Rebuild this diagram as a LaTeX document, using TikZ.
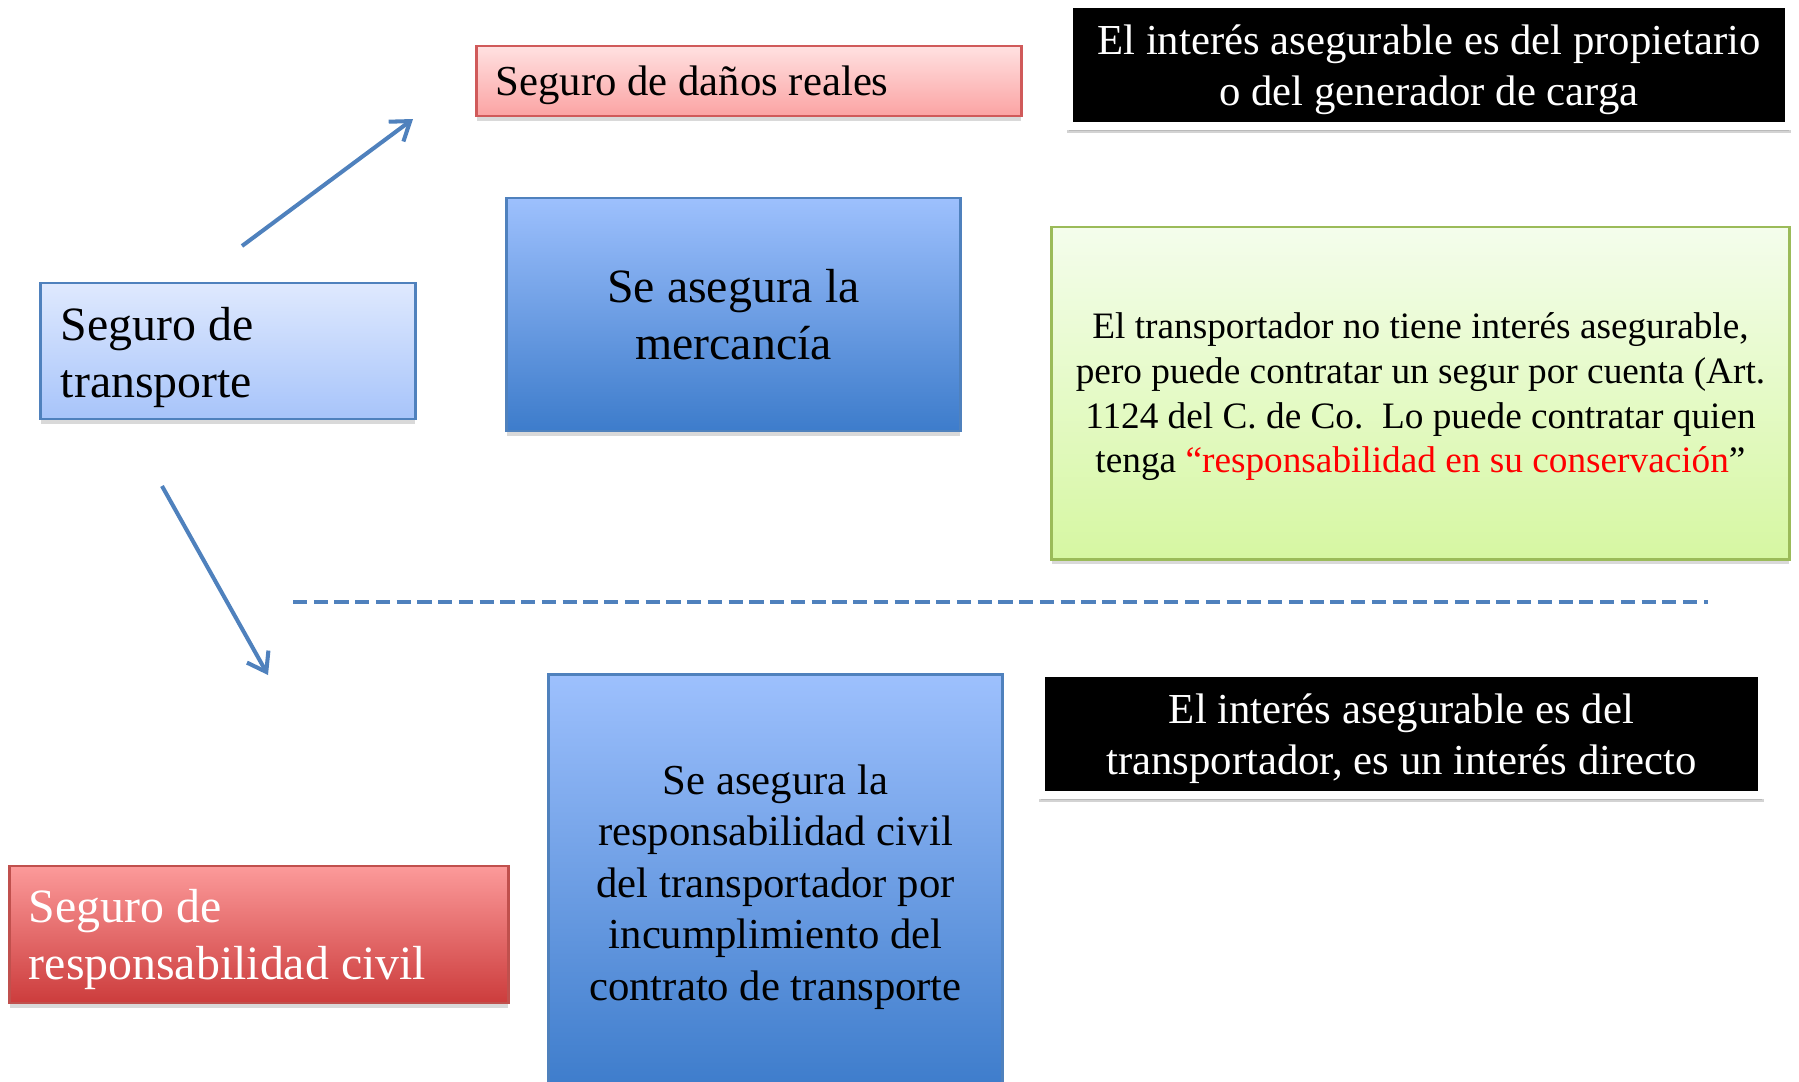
\documentclass[tikz,border=0pt]{standalone}
\usepackage{fontspec}
\setmainfont{Liberation Serif}
\usepackage{tikz}
\usetikzlibrary{arrows.meta, shadows}
\usepackage{xcolor}
\definecolor{danos_top}{HTML}{FFE1E1}
\definecolor{danos_bot}{HTML}{FBA3A3}
\definecolor{danos_line}{HTML}{D05A5A}
\definecolor{transp_top}{HTML}{DFE9FE}
\definecolor{transp_bot}{HTML}{A7C4FA}
\definecolor{merc_top}{HTML}{9DC0FD}
\definecolor{merc_bot}{HTML}{3D7CCB}
\definecolor{green_top}{HTML}{F4FDEC}
\definecolor{green_bot}{HTML}{D6F7A2}
\definecolor{green_line}{HTML}{9BBB59}
\definecolor{rc_top}{HTML}{FC9A9A}
\definecolor{rc_bot}{HTML}{CC3C3C}
\definecolor{rc_line}{HTML}{C0504D}
\definecolor{my_blue}{HTML}{4F81BD}
\definecolor{my_red}{HTML}{FF0000}

\begin{document}
\begin{tikzpicture}[
    x=0.01cm, y=-0.01cm,
    box/.style={rectangle, inner sep=0pt, line width=0.8pt, text depth=0pt,
      execute at begin node={\spaceskip=0pt\xspaceskip=0pt},
      drop shadow={opacity=0.3, shadow xshift=0pt, shadow yshift=-0.05cm}},
    left-box/.style={box, inner xsep=0.19cm, align=left},
    dark-box/.style={box, fill=black, draw=white, line width=0.08cm, text=white, align=center,
      drop shadow={opacity=0.35, shadow xshift=0pt, shadow yshift=-0.07cm, shadow scale=1.005}},
    font-small/.style={font=\fontsize{10.6pt}{12.7pt}\selectfont},
    font-mid/.style={font=\fontsize{12.15pt}{14.6pt}\selectfont},
    font-big/.style={font=\fontsize{13.6pt}{16.3pt}\selectfont},
    link/.style={color=my_blue, line width=1.15pt, -{Straight Barb[length=5pt, width=7pt]}},
    divider/.style={color=my_blue, line width=1.4pt, dash pattern=on 4pt off 1.9pt},
  ]
  \useasboundingbox (0,0) rectangle (1799,1081);

  %%%%%%%%%% Upper branch %%%%%%%%%%
  \node[left-box, font-mid, top color=danos_top, bottom color=danos_bot, draw=danos_line,
    minimum width=5.44cm, minimum height=0.70cm, text width=5.06cm]
    (danos) at (749,81) {Seguro de daños reales};
  \node[dark-box, font-mid, minimum width=7.20cm, minimum height=1.22cm]
    (propietario) at (1429,65) {El interés asegurable es del propietario\\o del generador de carga};
  \node[left-box, font-big, top color=transp_top, bottom color=transp_bot, draw=my_blue,
    minimum width=3.74cm, minimum height=1.36cm, text width=3.34cm, text depth=15.5pt]
    (transporte) at (228,351) {Seguro de\\transporte};
  \node[box, font-big, top color=merc_top, bottom color=merc_bot, draw=my_blue, align=center,
    minimum width=4.53cm, minimum height=2.33cm]
    (mercancia) at (733.5,314.5) {Se asegura la\\mercancía};
  \node[box, font-small, top color=green_top, bottom color=green_bot, draw=green_line, align=center,
    minimum width=7.37cm, minimum height=3.32cm]
    (transportador) at (1420.5,393) {El transportador no tiene interés asegurable,\\
      pero puede contratar un segur por cuenta (Art.\\
      1124 del C. de Co.\ \ Lo puede contratar quien\\
      tenga \textcolor{my_red}{``responsabilidad en su conservación}''};

  %%%%%%%%%% Arrows and divider %%%%%%%%%%
  \coordinate (up-start) at (242,246);
  \coordinate (up-end) at (413,119);
  \coordinate (down-start) at (162,486);
  \coordinate (down-end) at (268,675);
  \coordinate (div-left) at (293,602);
  \coordinate (div-right) at (1708,602);
  \draw[link] (up-start) -- (up-end);
  \draw[link] (down-start) -- (down-end);
  \draw[divider] (div-left) -- (div-right);

  %%%%%%%%%% Lower branch %%%%%%%%%%
  \node[dark-box, font-mid, minimum width=7.21cm, minimum height=1.22cm]
    (directo) at (1401.5,734) {El interés asegurable es del\\transportador, es un interés directo};
  \node[left-box, font-big, top color=rc_top, bottom color=rc_bot, draw=rc_line, text=white,
    minimum width=4.98cm, minimum height=1.37cm, text width=4.60cm, text depth=16.2pt]
    (civil) at (259,934.5) {Seguro de\\responsabilidad civil};
  \node[box, font-mid, top color=merc_top, bottom color=merc_bot, draw=my_blue, align=center,
    minimum width=4.53cm, minimum height=4.15cm]
    (contrato) at (775.5,882.5) {Se asegura la\\responsabilidad civil\\del transportador por\\
      incumplimiento del\\contrato de transporte};

\end{tikzpicture}
\end{document}
